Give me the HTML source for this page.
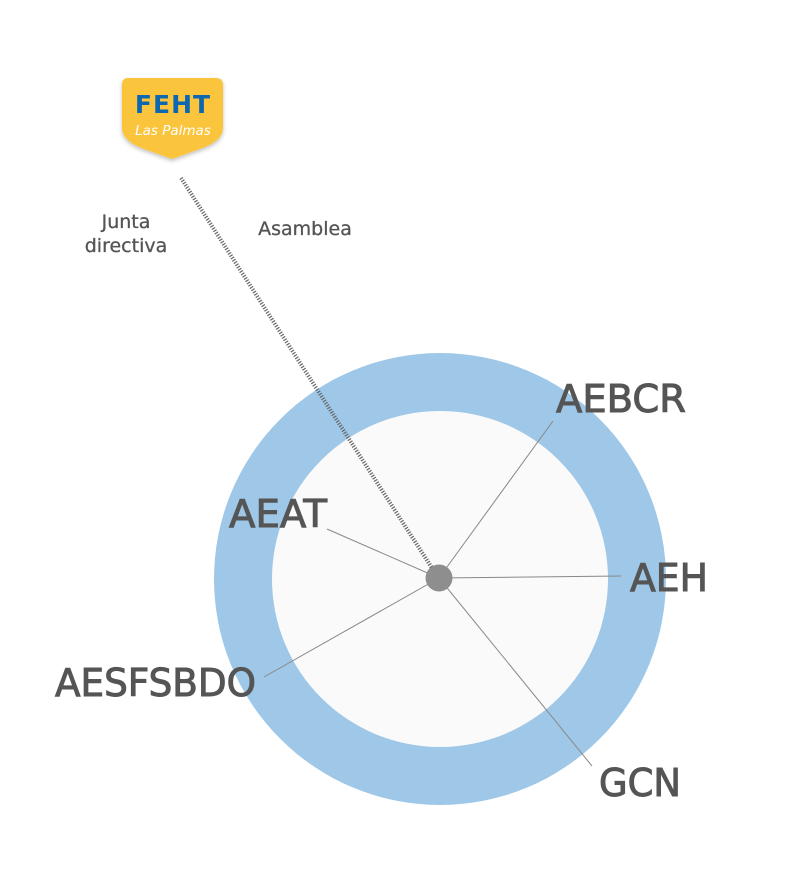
<!DOCTYPE html>
<html><head><meta charset="utf-8"><style>
body{margin:0;background:#fff;width:800px;height:886px;overflow:hidden}
</style></head><body>
<svg width="800" height="886" viewBox="0 0 800 886" xmlns="http://www.w3.org/2000/svg" font-family="'DejaVu Sans','Liberation Sans',sans-serif">
<defs><filter id="sh" x="-20%" y="-20%" width="140%" height="140%"><feDropShadow dx="0" dy="2" stdDeviation="2" flood-color="#000" flood-opacity="0.25"/></filter></defs>
<circle cx="440" cy="579" r="226" fill="#9fc8e8"/>
<circle cx="440" cy="579" r="168" fill="#fafafa"/>
<g stroke="#888" stroke-width="1">
<line x1="439" y1="578" x2="553" y2="421"/>
<line x1="439" y1="578" x2="621" y2="576"/>
<line x1="439" y1="578" x2="592" y2="766"/>
<line x1="439" y1="578" x2="264" y2="677"/>
<line x1="439" y1="578" x2="327" y2="529"/>
</g>
<line x1="181" y1="178" x2="432" y2="568" stroke="#666" stroke-width="4" stroke-dasharray="1.2 1.5"/>
<circle cx="439" cy="578" r="13.5" fill="#8e8e8e"/>
<path d="M128,78 H216 Q223,78 223,85 V128 Q223,141 200,149 L172,159 L144,149 Q122,141 122,128 V85 Q122,78 128,78 Z" fill="#fbc43d" filter="url(#sh)"/>
<text x="173" y="113" text-anchor="middle" font-size="25" font-weight="bold" fill="#0d66b0" letter-spacing="1">FEHT</text>
<text x="173" y="135" text-anchor="middle" font-size="13.5" font-style="italic" fill="#fff">Las Palmas</text>
<g fill="#555" font-size="19" stroke="#555" stroke-width="0.3">
<text x="126" y="228" text-anchor="middle">Junta</text>
<text x="126" y="252" text-anchor="middle">directiva</text>
<text x="305" y="235" text-anchor="middle">Asamblea</text>
</g>
<g fill="#555" font-size="38" stroke="#555" stroke-width="1">
<text x="556" y="412" textLength="130" lengthAdjust="spacingAndGlyphs">AEBCR</text>
<text x="630" y="591" textLength="78" lengthAdjust="spacingAndGlyphs">AEH</text>
<text x="599" y="796" textLength="82" lengthAdjust="spacingAndGlyphs">GCN</text>
<text x="55" y="696" textLength="201" lengthAdjust="spacingAndGlyphs">AESFSBDO</text>
<text x="229" y="527" textLength="98" lengthAdjust="spacingAndGlyphs">AEAT</text>
</g>
</svg>
</body></html>
